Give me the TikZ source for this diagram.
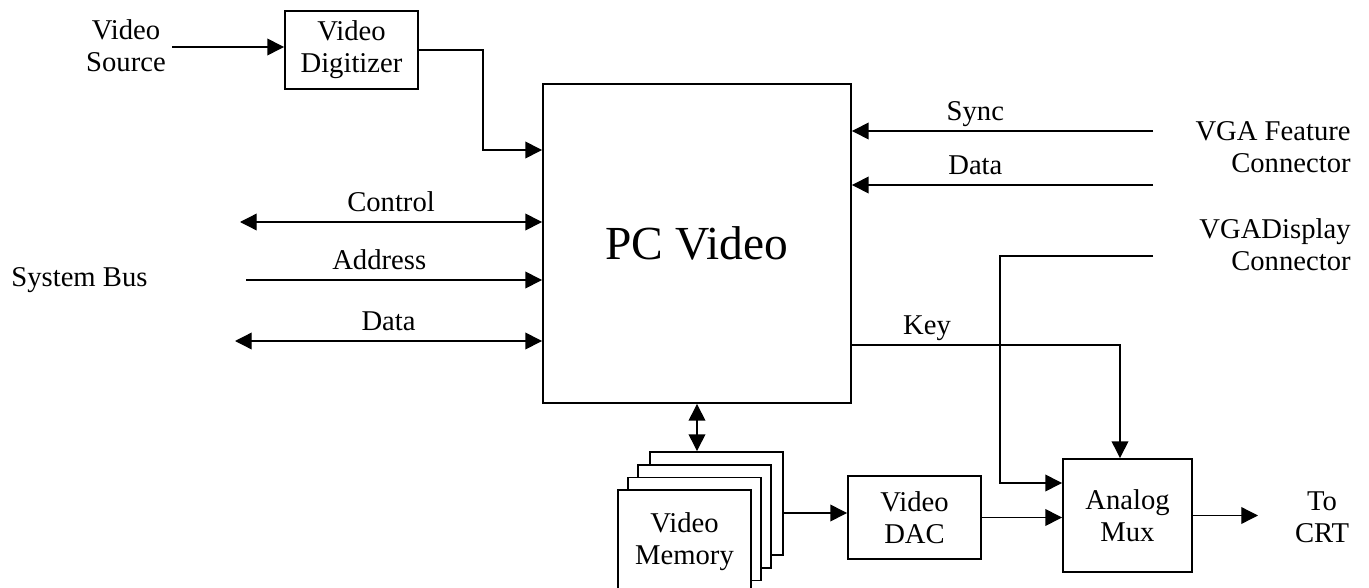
\documentclass[tikz,border=0pt]{standalone}
\usepackage{fontspec}
\setmainfont{Liberation Serif}
\usetikzlibrary{positioning,arrows.meta}

\tikzset{
  block/.style={draw, line width=1.1pt, fill=white, inner sep=0pt, align=center},
  sheet/.style={block, minimum width=2.66cm, minimum height=2.06cm},
  lbl/.style={inner sep=2pt, text depth=3.6pt, align=center},
}

\begin{document}
\begin{tikzpicture}[x=0.02cm, y=-0.02cm, line width=0.75pt,
    >={Triangle[length=9.5pt, width=9.5pt]},
    every node/.append style={font=\fontsize{16.3}{18.2}\selectfont}]

      \useasboundingbox (0,0) rectangle (1369,588);

      % blocks
      \node [block, minimum width=2.66cm, minimum height=1.56cm] at (351.5,50) (dig) {Video\\Digitizer};
      \node [block, minimum width=6.16cm, minimum height=6.38cm, font=\fontsize{27}{30}\selectfont] at (697,243.5) (pc) {PC Video};
      \node [sheet] at (716.5,503.5) (mem4) {};
      \node [sheet] at (704.5,516.5) (mem3) {};
      \node [sheet] at (694.5,529) (mem2) {};
      \node [sheet] at (684.5,541.5) (mem1) {Video\\Memory};
      \node [block, minimum width=2.66cm, minimum height=1.66cm] at (914.5,517.5) (dac) {Video\\DAC};
      \node [block, minimum width=2.58cm, minimum height=2.26cm] at (1127.5,515.5) (mux) {Analog\\Mux};

      % outside labels
      \node [align=center] at (126,46) (src) {Video\\Source};
      \node [inner sep=1pt, anchor=west] at (9,280) (bus) {System Bus};
      \node [inner sep=1pt, align=right, anchor=east] at (1353,147) (feat) {VGA Feature\\Connector};
      \node [inner sep=1pt, align=right, anchor=east] at (1353,245) (disp) {VGADisplay\\Connector};
      \node [inner sep=1pt, align=center] at (1322,517) (crt) {To\\CRT};

      \coordinate (jog) at (483,150);
      \coordinate (ctrl) at (240,222);
      \coordinate (addr) at (246,280);
      \coordinate (bdata) at (235,341);
      \coordinate (sync) at (1153,131);
      \coordinate (fdata) at (1153,185);
      \coordinate (dline) at (1153,256);
      \coordinate (dturn) at (1000,256);
      \coordinate (dmux) at (1000,483);
      \coordinate (key) at (1120,345);
      \coordinate (tocrt) at (1258,515.5);

      \draw [->] (src.east |- 0,47) -- (dig.west |- 0,47);
      \draw [->] (dig.east) -| (jog) -- (jog -| pc.west);

      \draw [<->] (ctrl) -- (ctrl -| pc.west) node [midway, above, lbl] {Control};
      \draw [->] (addr) -- (addr -| pc.west) node [pos=0.45, above, lbl] {Address};
      \draw [<->] (bdata) -- (bdata -| pc.west) node [midway, above, lbl] {Data};

      \draw [->] (sync) -- (sync -| pc.east) node [pos=0.59, above, lbl] {Sync};
      \draw [->] (fdata) -- (fdata -| pc.east) node [pos=0.59, above, lbl] {Data};

      \draw [->] (key -| pc.east) -- (key) node [pos=0.28, above, lbl] {Key} -- (key |- mux.north);
      \draw [->] (dline) -- (dturn) -- (dmux) -- (dmux -| mux.west);

      \draw [<->] (pc.south) -- (pc.south |- mem4.north);
      \draw [->] (mem4.east |- 0,513) -- (dac.west |- 0,513);
      \draw [->] (dac.east) -- (dac.east -| mux.west);
      \draw [->] (mux.east) -- (tocrt);
    \end{tikzpicture}
\end{document}
